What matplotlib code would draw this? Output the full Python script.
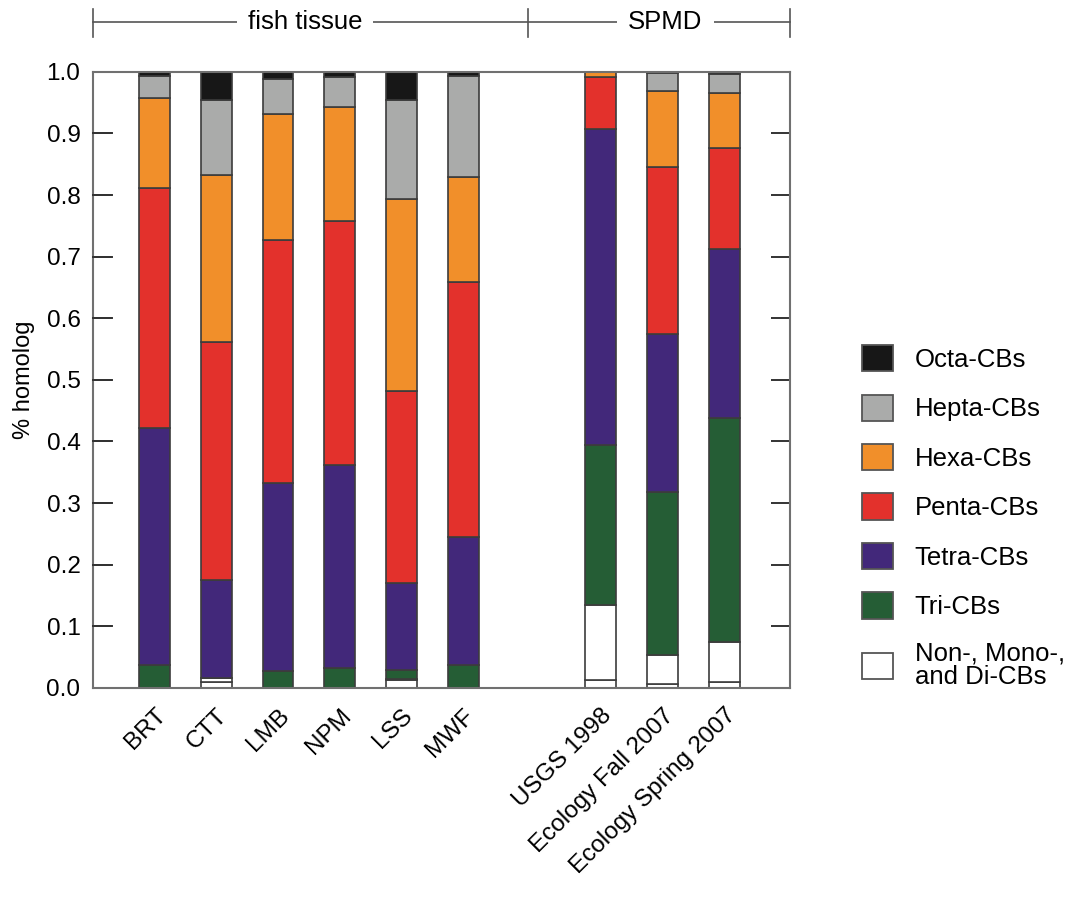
import numpy as np
import matplotlib
matplotlib.use("Agg")
import matplotlib.pyplot as plt
from matplotlib.patches import Patch
import matplotlib.transforms as mtransforms

plt.rcParams['font.family'] = ['Liberation Sans', 'DejaVu Sans']

# Sample names
fish_samples = ["BRT", "CTT", "LMB", "NPM", "LSS", "MWF"]
spmd_samples = ["USGS 1998", "Ecology Fall 2007", "Ecology Spring 2007"]
samples = fish_samples + spmd_samples

# Homolog fractions per sample (bottom to top)
non_mono = [0.000, 0.010, 0.000, 0.000, 0.012, 0.000, 0.013, 0.007, 0.009]
di_cbs = [0.000, 0.006, 0.000, 0.000, 0.003, 0.000, 0.122, 0.047, 0.066]
tri_cbs = [0.037, 0.000, 0.027, 0.032, 0.014, 0.037, 0.260, 0.264, 0.363]
tetra_cbs = [0.385, 0.159, 0.306, 0.330, 0.141, 0.208, 0.513, 0.256, 0.274]
penta_cbs = [0.390, 0.386, 0.394, 0.396, 0.312, 0.414, 0.083, 0.271, 0.165]
hexa_cbs = [0.146, 0.271, 0.205, 0.185, 0.312, 0.170, 0.009, 0.124, 0.089]
hepta_cbs = [0.035, 0.123, 0.056, 0.048, 0.161, 0.164, 0.000, 0.029, 0.031]
octa_cbs = [0.007, 0.045, 0.012, 0.009, 0.045, 0.007, 0.000, 0.002, 0.003]

series = [
    ("Non-, Mono-,\nand Di-CBs", non_mono, "white"),
    (None, di_cbs, "white"),
    ("Tri-CBs", tri_cbs, "#255d35"),
    ("Tetra-CBs", tetra_cbs, "#42287a"),
    ("Penta-CBs", penta_cbs, "#e3312c"),
    ("Hexa-CBs", hexa_cbs, "#f18f2a"),
    ("Hepta-CBs", hepta_cbs, "#aaabaa"),
    ("Octa-CBs", octa_cbs, "#171717"),
]

# x positions: fish tissue group, gap, then SPMD group
x = np.array([0, 1, 2, 3, 4, 5, 7.22, 8.23, 9.24])

fig = plt.figure(figsize=(10.75, 8.98), dpi=100)
ax = fig.add_axes([0.0865, 0.234, 0.6485, 0.686])

edge = "#3c3c3c"
bottom = np.zeros(len(samples))
for name, vals, color in series:
    vals = np.array(vals)
    ax.bar(x, vals, width=0.5, bottom=bottom, color=color,
           edgecolor=edge, linewidth=1.2)
    bottom += vals

ax.set_xlim(-1.0, 10.3)
ax.set_ylim(0, 1.0)
yt = np.arange(0, 1.01, 0.1)
ax.set_yticks(yt)
ax.set_yticklabels([f"{v:.1f}" for v in yt], fontsize=17.5)
ax.yaxis.set_ticks_position('both')
ax.tick_params(axis='y', which='major', direction='in', length=14, width=1.4,
               color="#333333", left=True, right=True, pad=9)
ax.set_xticks(x)
ax.set_xticklabels(samples, rotation=45, ha='right', rotation_mode='anchor', fontsize=17.5)
ax.tick_params(axis='x', length=0, pad=12)
for s in ax.spines.values():
    s.set_color("#707070")
    s.set_linewidth(1.5)
ax.set_ylabel("% homolog", fontsize=17, labelpad=8)

# inward tick marks on the left spine (drawn explicitly)
tick_tr = mtransforms.blended_transform_factory(ax.transAxes, ax.transData)
for v in yt[1:-1]:
    ax.plot([0, 0.027], [v, v], color="#333333", lw=1.4, transform=tick_tr,
            clip_on=False, zorder=5)

# Group brackets on top
trans = mtransforms.blended_transform_factory(ax.transAxes, ax.transAxes)
line_kw = dict(color="#555555", lw=1.2, transform=trans, clip_on=False)
y_line = 1.081
ax.plot([0, 1], [y_line, y_line], **line_kw)
for xv in [0, 0.624, 1]:
    ax.plot([xv, xv], [1.057, 1.102], **line_kw)
box = dict(facecolor="white", edgecolor="none")
ax.text(0.304, y_line, "fish tissue", transform=trans, ha='center', va='center',
        fontsize=18.5, bbox=dict(box, pad=8))
ax.text(0.821, y_line, "SPMD", transform=trans, ha='center', va='center',
        fontsize=18.5, bbox=dict(box, pad=8))

# Legend (top to bottom: Octa ... Non)
handles = []
labels = []
for name, vals, color in reversed(series):
    if name is None:
        continue
    handles.append(Patch(facecolor=color, edgecolor="#555555", linewidth=1.3))
    labels.append(name)
leg = fig.legend(handles, labels, loc='upper left', bbox_to_anchor=(0.790, 0.630),
                 frameon=False, fontsize=18.5, handlelength=1.2, handleheight=1.2,
                 labelspacing=0.88, handletextpad=0.85, borderpad=0)
for t in leg.get_texts():
    t.set_linespacing(0.95)

fig.savefig("out.png", dpi=100)
